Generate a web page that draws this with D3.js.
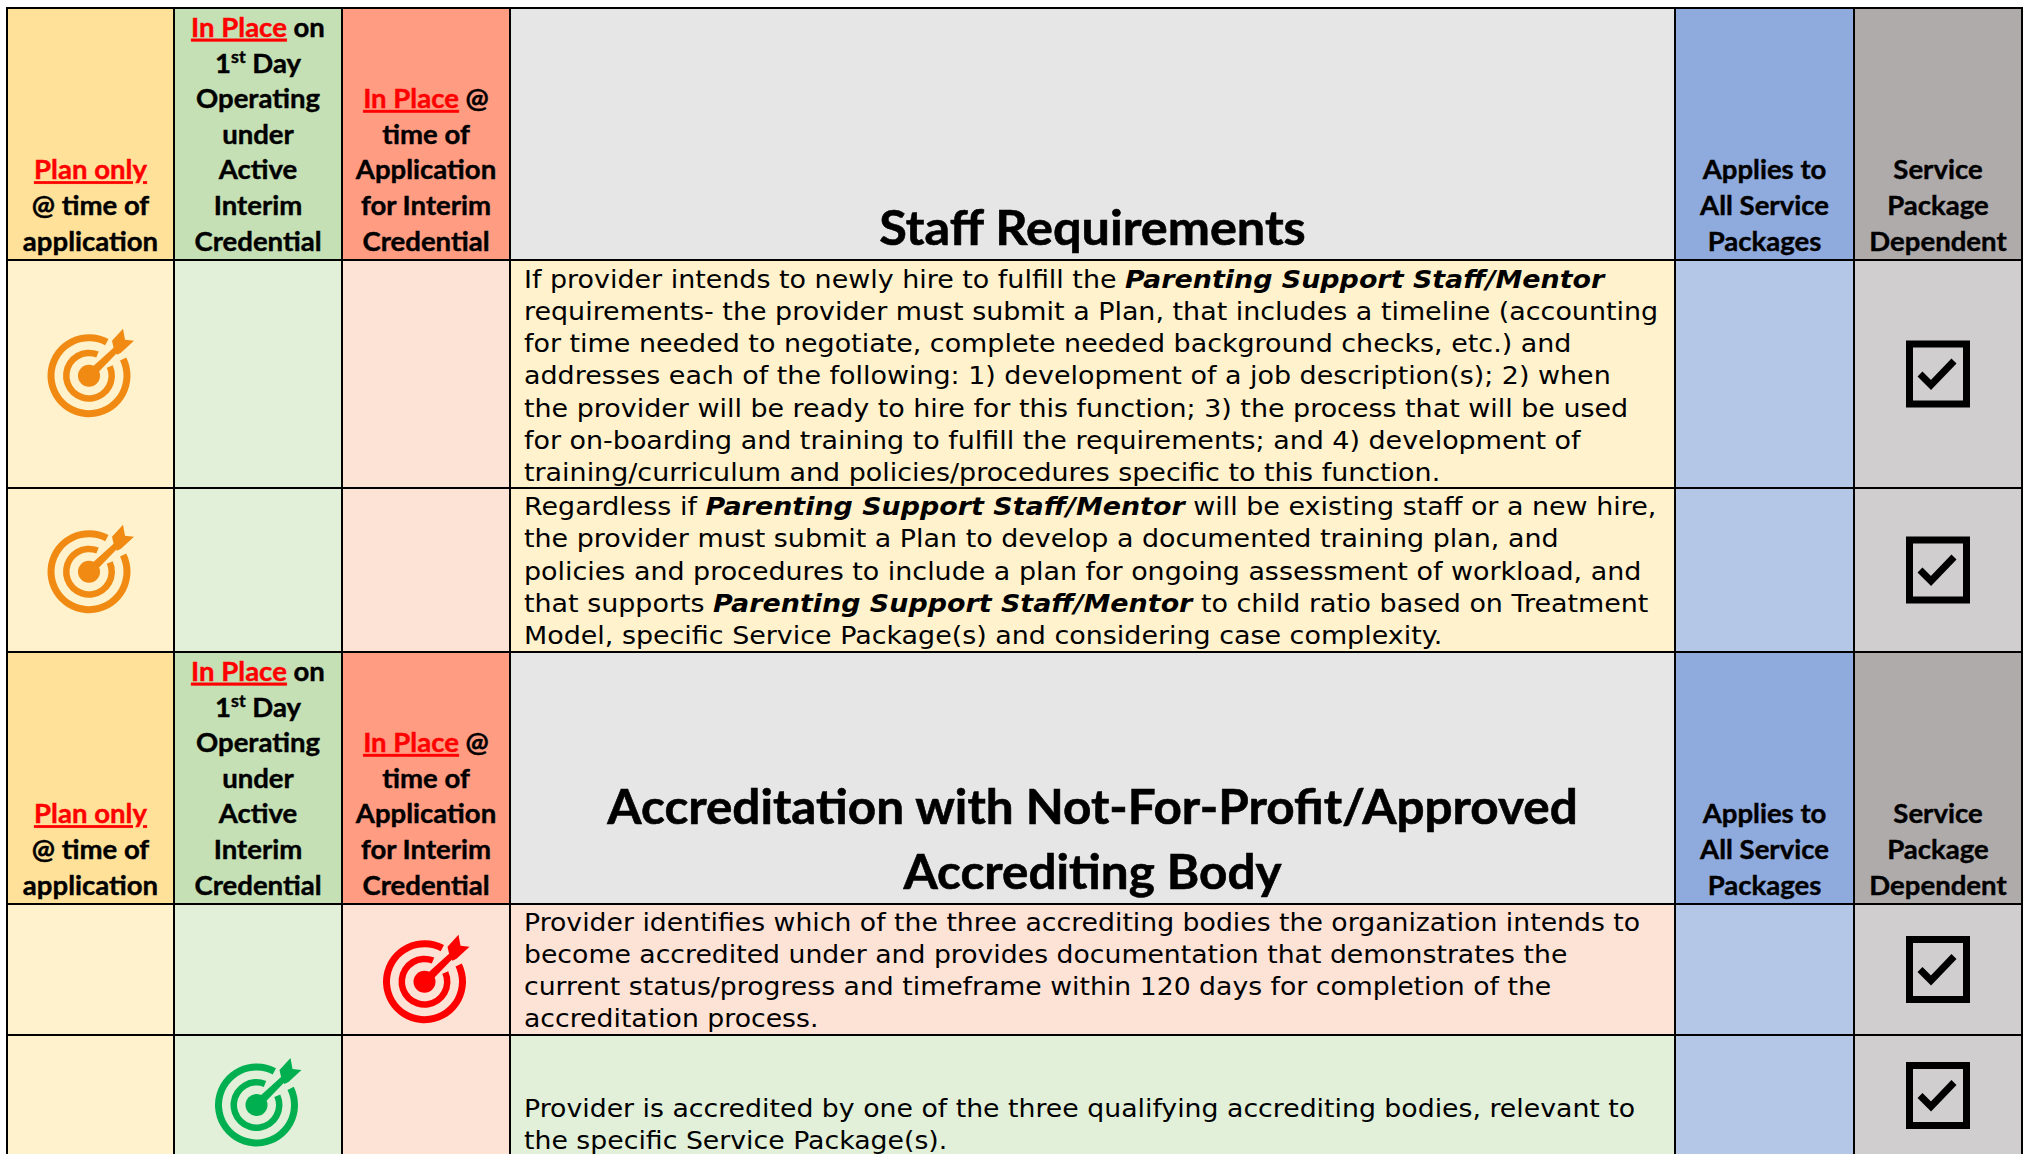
<!DOCTYPE html>
<html>
<head>
<meta charset="utf-8">
<title>Staff Requirements</title>
<script src="https://cdnjs.cloudflare.com/ajax/libs/d3/7.8.5/d3.min.js"></script>
<style>
  html, body { margin: 0; padding: 0; background: #fff; }
  svg { display: block; }
  .head { font-family: Lato, sans-serif; font-weight: 700; font-size: 26px; text-anchor: middle; fill: #000; stroke: #000; stroke-width: 0.4px; }
  .title { font-family: Lato, sans-serif; font-weight: 700; font-size: 48px; text-anchor: middle; fill: #000; stroke: #000; stroke-width: 0.6px; }
  .body { font-family: "DejaVu Sans", sans-serif; font-size: 25px; fill: #000; }
  .red { fill: #ff0000; stroke: #ff0000; text-decoration: underline; }
  .em { font-weight: 700; font-style: italic; }
</style>
</head>
<body>
<div id="chart"></div>
<script>
// table content, [..] = red underlined, ^..^ = superscript, *..* = bold italic
var columns = ["plan", "day1", "place", "text", "all", "dep"];
var rowKeys = ["head1", "r1", "r2", "head2", "r3", "r4"];

var planHead = ["[Plan only]", "@ time of", "application"];
var day1Head = ["[In Place] on", "1^st^ Day", "Operating", "under", "Active", "Interim", "Credential"];
var placeHead = ["[In Place] @", "time of", "Application", "for Interim", "Credential"];
var allHead = ["Applies to", "All Service", "Packages"];
var depHead = ["Service", "Package", "Dependent"];

var titles = {
  head1: ["Staff Requirements"],
  head2: ["Accreditation with Not-For-Profit/Approved", "Accrediting Body"]
};

var r1Text = [
  "If provider intends to newly hire to fulfill the *Parenting Support Staff/Mentor*",
  "requirements- the provider must submit a Plan, that includes a timeline (accounting",
  "for time needed to negotiate, complete needed background checks, etc.) and",
  "addresses each of the following: 1) development of a job description(s); 2) when",
  "the provider will be ready to hire for this function; 3) the process that will be used",
  "for on-boarding and training to fulfill the requirements; and 4) development of",
  "training/curriculum and policies/procedures specific to this function."
];
var r2Text = [
  "Regardless if *Parenting Support Staff/Mentor* will be existing staff or a new hire,",
  "the provider must submit a Plan to develop a documented training plan, and",
  "policies and procedures to include a plan for ongoing assessment of workload, and",
  "that supports *Parenting Support Staff/Mentor* to child ratio based on Treatment",
  "Model, specific Service Package(s) and considering case complexity."
];
var r3Text = [
  "Provider identifies which of the three accrediting bodies the organization intends to",
  "become accredited under and provides documentation that demonstrates the",
  "current status/progress and timeframe within 120 days for completion of the",
  "accreditation process."
];
var r4Text = [
  "Provider is accredited by one of the three qualifying accrediting bodies, relevant to",
  "the specific Service Package(s)."
];

var bodyRows = ["r1", "r2", "r3", "r4"];
var bodyText = [r1Text, r2Text, r3Text, r4Text];
var targetColumn = ["plan", "plan", "place", "day1"];
var textColumnTint = ["plan", "plan", "place", "day1"];

var width = 2023, height = 1154;

var svg = d3.select("#chart").append("svg")
  .attr("width", width)
  .attr("height", height);

// column left edges and row top edges, last one is the far edge
var xEdge = d3.scaleOrdinal().domain(columns.concat("end")).range([7, 174, 342, 510, 1675, 1854, 2022]);
var yEdge = d3.scaleOrdinal().domain(rowKeys.concat("end")).range([8, 260, 488, 652, 904, 1035, 1156]);
var nextCol = d3.scaleOrdinal().domain(columns).range(columns.slice(1).concat("end"));
var nextRow = d3.scaleOrdinal().domain(rowKeys).range(rowKeys.slice(1).concat("end"));

var headFill = d3.scaleOrdinal().domain(columns).range(["#ffe199", "#c5e0b4", "#ff9c82", "#e6e6e6", "#8faadc", "#afabab"]);
var bodyFill = d3.scaleOrdinal().domain(columns).range(["#fff2cc", "#e2f0d9", "#fde3d6", "#fff2cc", "#b4c7e7", "#d0cece"]);
var markColor = d3.scaleOrdinal().domain(["plan", "day1", "place"]).range(["#f18a12", "#00b050", "#ff0000"]);

function isHead(r) { return r.indexOf("head") == 0; }
function colMid(c) { return (xEdge(c) + xEdge(nextCol(c))) / 2; }

// cells
rowKeys.forEach(function(r) {
  var i = bodyRows.indexOf(r);
  svg.append("g").selectAll("rect").data(columns).enter().append("rect")
    .attr("x", function(c) { return xEdge(c); })
    .attr("y", yEdge(r))
    .attr("width", function(c) { return xEdge(nextCol(c)) - xEdge(c); })
    .attr("height", yEdge(nextRow(r)) - yEdge(r))
    .attr("fill", function(c) {
      if (isHead(r)) return headFill(c);
      if (c == "text") return bodyFill(textColumnTint[i]);
      return bodyFill(c);
    });
});

// grid
var grid = svg.append("g").attr("stroke", "#000").attr("stroke-width", 2);
grid.selectAll("line.v").data(columns.concat("end")).enter().append("line")
  .attr("x1", function(c) { return xEdge(c); })
  .attr("x2", function(c) { return xEdge(c); })
  .attr("y1", 7).attr("y2", height);
grid.selectAll("line.h").data(rowKeys).enter().append("line")
  .attr("x1", 6).attr("x2", 2023)
  .attr("y1", function(r) { return yEdge(r); })
  .attr("y2", function(r) { return yEdge(r); });

// fonts here are narrower than the original ones, so stretch the lines a bit
var headStretch = 1.06;
var titleStretch = {head1: 1.05, head2: 1.03};
var bodyStretch = [1.077, 1.077, 1.068, 1.07];

function addHeadLine(sel, str) {
  str.split(/(\[[^\]]*\]|\^[^^]*\^)/).forEach(function(p) {
    if (!p) return;
    if (p[0] == "[") sel.append("tspan").attr("class", "red").text(p.slice(1, -1));
    else if (p[0] == "^") sel.append("tspan").attr("baseline-shift", "super").attr("font-size", "17px").text(p.slice(1, -1));
    else sel.append("tspan").text(p);
  });
}
function drawHead(r, c, lines) {
  var bottom = yEdge(nextRow(r)) - 9.5, step = 35.6;
  lines.forEach(function(l, i) {
    var t = svg.append("text").attr("class", "head")
      .attr("transform", "translate(" + colMid(c) + "," + (bottom - (lines.length - 1 - i) * step) + ") scale(" + headStretch + ",1)");
    addHeadLine(t, l);
  });
}
["head1", "head2"].forEach(function(r) {
  drawHead(r, "plan", planHead);
  drawHead(r, "day1", day1Head);
  drawHead(r, "place", placeHead);
  drawHead(r, "all", allHead);
  drawHead(r, "dep", depHead);
  var t = titles[r], bottom = yEdge(nextRow(r)) - 15;
  t.forEach(function(l, i) {
    svg.append("text").attr("class", "title")
      .attr("transform", "translate(" + colMid("text") + "," + (bottom - (t.length - 1 - i) * 65) + ") scale(" + titleStretch[r] + ",1)")
      .text(l);
  });
});

// body text
var firstBaseline = d3.scaleOrdinal().domain(bodyRows).range([287.5, 515, 930.5, 1117]);
bodyRows.forEach(function(r, i) {
  bodyText[i].forEach(function(l, j) {
    var t = svg.append("text").attr("class", "body")
      .attr("transform", "translate(524," + (firstBaseline(r) + j * 32.3) + ") scale(" + bodyStretch[i] + ",1)");
    l.split(/(\*[^*]*\*)/).forEach(function(p) {
      if (!p) return;
      if (p[0] == "*") t.append("tspan").attr("class", "em").text(p.slice(1, -1));
      else t.append("tspan").text(p);
    });
  });
});

// target icon, rings with a gap where the arrow goes through
var ringArc = d3.arc();
var deg = Math.PI / 180;
var targetShift = [1.7, 1.7, 12.2, 9.5];
function drawTarget(r, c, dy) {
  var cy = (yEdge(r) + yEdge(nextRow(r))) / 2 + dy;
  var g = svg.append("g")
    .attr("transform", "translate(" + (colMid(c) - 1.5) + "," + cy + ")")
    .attr("fill", markColor(c));
  g.append("path").attr("d", ringArc({innerRadius: 34.5, outerRadius: 41.5, startAngle: 64 * deg, endAngle: 388 * deg}));
  g.append("path").attr("d", ringArc({innerRadius: 19.5, outerRadius: 26, startAngle: 66 * deg, endAngle: 382 * deg}));
  g.append("circle").attr("r", 11);
  g.append("path").attr("d", "M-2,-4 L29,-32 L33,-28 L4,2 Z");
  g.append("path").attr("d", "M34,-47 L36,-36 L45,-35 L32,-23 L28,-21 L25,-26 L23,-35 Z");
}

// checkbox
function drawCheck(r) {
  var cy = (yEdge(r) + yEdge(nextRow(r))) / 2;
  var g = svg.append("g").attr("transform", "translate(" + colMid("dep") + "," + cy + ")");
  g.append("rect").attr("x", -28.5).attr("y", -30).attr("width", 57).attr("height", 60)
    .attr("fill", "none").attr("stroke", "#000").attr("stroke-width", 7);
  g.append("path").attr("d", "M-18,0 L-7,11 L16,-13")
    .attr("fill", "none").attr("stroke", "#000").attr("stroke-width", 7);
}

bodyRows.forEach(function(r, i) {
  drawTarget(r, targetColumn[i], targetShift[i]);
  drawCheck(r);
});
</script>
</body>
</html>
